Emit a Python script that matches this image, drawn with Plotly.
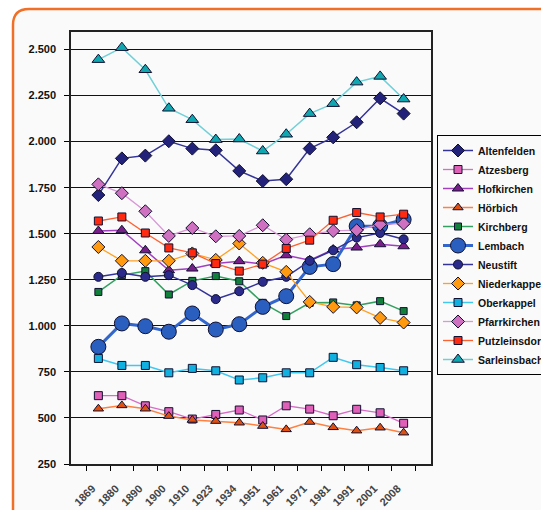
import plotly.graph_objects as go

years = ["1869", "1880", "1890", "1900", "1910", "1923", "1934", "1951",
         "1961", "1971", "1981", "1991", "2001", "2008"]

altenfelden = [1710, 1909, 1924, 2002, 1962, 1953, 1841, 1786, 1796, 1962, 2023, 2105, 2235, 2152]
atzesberg = [621, 621, 566, 534, 494, 519, 543, 489, 566, 548, 512, 547, 528, 471]
hofkirchen = [1515, 1519, 1410, 1302, 1311, 1338, 1351, 1335, 1383, 1356, 1414, 1425, 1443, 1432]
hoerbich = [550, 568, 550, 510, 489, 483, 474, 456, 438, 478, 449, 431, 447, 420]
kirchberg = [1184, 1275, 1297, 1170, 1244, 1270, 1242, 1125, 1053, 1125, 1127, 1111, 1134, 1080]
lembach = [886, 1013, 998, 968, 1067, 980, 1009, 1103, 1161, 1320, 1335, 1541, 1542, 1577]
neustift = [1266, 1287, 1266, 1275, 1221, 1145, 1188, 1239, 1266, 1353, 1410, 1479, 1504, 1470]
niederkappel = [1428, 1353, 1353, 1353, 1393, 1358, 1447, 1342, 1293, 1130, 1103, 1100, 1043, 1018]
oberkappel = [823, 785, 785, 745, 769, 756, 706, 718, 745, 745, 829, 789, 774, 756]
pfarrkirchen = [1768, 1720, 1622, 1488, 1531, 1486, 1488, 1546, 1468, 1497, 1515, 1519, 1551, 1555]
putzleinsdorf = [1569, 1591, 1504, 1423, 1396, 1338, 1297, 1335, 1420, 1465, 1573, 1615, 1591, 1606]
sarleinsbach = [2445, 2510, 2390, 2181, 2119, 2011, 2014, 1949, 2040, 2152, 2206, 2323, 2354, 2231]

y_ticks = [250, 500, 750, 1000, 1250, 1500, 1750, 2000, 2250, 2500]

series = [
    ("Altenfelden", altenfelden, "#333399", "#22227a", "diamond", 10, 1.5),
    ("Atzesberg", atzesberg, "#d86cc8", "#e060b8", "square", 8, 1.3),
    ("Hofkirchen", hofkirchen, "#a040c0", "#7a1f8a", "triangle-up", 10, 1.5),
    ("Hörbich", hoerbich, "#ff8040", "#e05010", "triangle-up", 9, 1.5),
    ("Kirchberg", kirchberg, "#33a060", "#10803a", "square", 7, 1.5),
    ("Lembach", lembach, "#3366cc", "#2a5fc0", "circle", 15, 3),
    ("Neustift", neustift, "#333399", "#2b2b8c", "circle", 9, 1.5),
    ("Niederkappel", niederkappel, "#ffa020", "#ff9a10", "diamond", 10, 1.3),
    ("Oberkappel", oberkappel, "#40c8f0", "#10b0e0", "square", 8, 1.5),
    ("Pfarrkirchen", pfarrkirchen, "#d898d8", "#d070c0", "diamond", 10, 1.3),
    ("Putzleinsdorf", putzleinsdorf, "#ff6030", "#ff2a10", "square", 8, 1.3),
    ("Sarleinsbach", sarleinsbach, "#70d0d8", "#10a8b0", "triangle-up", 11, 1.5),
]

fig = go.Figure()
for name, vals, lc, mc, sym, ms, lw in series:
    fig.add_trace(go.Scatter(
        x=years, y=vals, name=name, mode="lines+markers",
        line=dict(color=lc, width=lw),
        marker=dict(symbol=sym, size=ms, color=mc, line=dict(color="#101030", width=1)),
    ))

# plot-area pixel geometry (for decorative frame conversion)
L, R, T, B = 71, 431, 32, 464
def px(x):
    return (x - L) / (R - L)
def py(y):
    return (B - y) / (B - T)

x0, yt, r = 13, 9, 16
xr, yb = 600, 560
frame = (f"M{px(x0)},{py(yb)} L{px(x0)},{py(yt + r)} "
         f"Q{px(x0)},{py(yt)} {px(x0 + r)},{py(yt)} L{px(xr)},{py(yt)} "
         f"L{px(xr)},{py(yb)} Z")

FONT = "Liberation Sans, Arial, sans-serif"

fig.update_layout(
    width=541, height=510,
    margin=dict(l=L, r=541 - R, t=T, b=510 - B, autoexpand=False),
    paper_bgcolor="white",
    plot_bgcolor="#c0c0c0",
    separators=",.",
    font=dict(family=FONT, size=11, color="#111111", weight="bold"),
    shapes=[dict(type="path", path=frame, xref="paper", yref="paper",
                 line=dict(color="#f07028", width=2.5), fillcolor="#fafafa", layer="below")],
    legend=dict(
        x=px(437), y=py(135), xanchor="left", yanchor="top",
        bordercolor="#000000", borderwidth=1, bgcolor="#fafafa",
        font=dict(family=FONT, size=10.5, color="#111111", weight="bold"),
        itemwidth=30, tracegroupgap=0,
    ),
    showlegend=True,
)

fig.update_xaxes(
    type="category", tickangle=-45, ticks="outside", ticklen=5, tickcolor="#000",
    tickson="boundaries", showgrid=False, showline=True, linecolor="#222", linewidth=1.5,
    mirror=True, ticklabelstandoff=12, ticklabelshift=-6,
    tickfont=dict(family=FONT, size=11, color="#444", weight="bold"),
)
fig.update_yaxes(
    range=[250, 2595], tickvals=y_ticks, tickformat=",d", ticks="outside", ticklen=5,
    tickcolor="#000", showgrid=True, gridcolor="#111111", gridwidth=1.3,
    showline=True, linecolor="#222", linewidth=1.5, mirror=True, zeroline=False,
    ticklabelstandoff=6,
    tickfont=dict(family=FONT, size=11, color="#111", weight="bold"),
)

fig.write_html("out.html")
